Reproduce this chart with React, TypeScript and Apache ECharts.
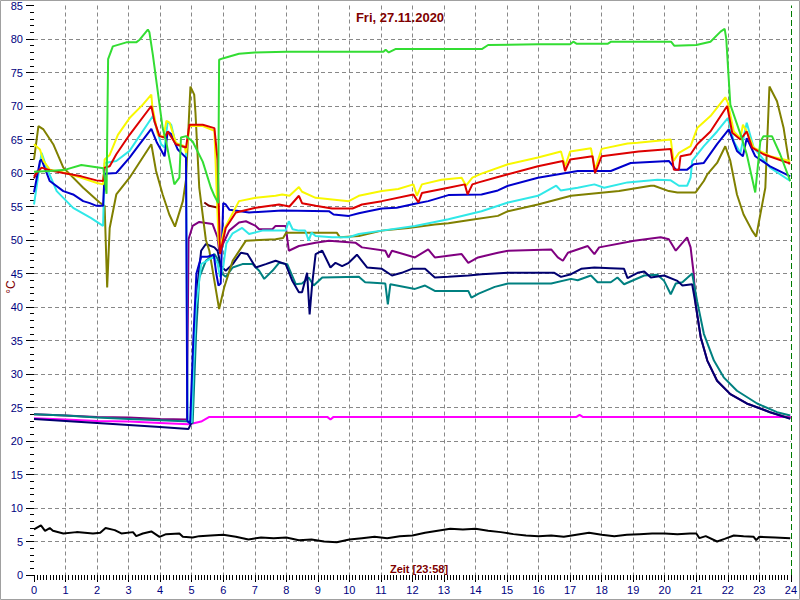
import React, { useEffect, useRef } from "react";
import * as echarts from "echarts";

type P = [number, number | null];

const xTicks = [0, 24, 1];
const yTicks = [0, 85, 5];
const titleText = "Fri, 27.11.2020";
const xName = "Zeit [23:58]";
const yName = "°C";

const green: P[] = [[0,60.2],[0.5,60.3],[1.0,60.5],[1.5,61.2],[2.2,60.7],[2.3,56.9],[2.35,77.0],[2.5,78.9],[2.93,79.5],[3.24,79.5],[3.35,79.9],[3.61,81.4],[3.66,81.0],[3.77,77.6],[4.08,66.7],[4.19,64.7],[4.45,58.3],[4.61,59.3],[4.66,65.3],[4.82,65.5],[5.03,64.7],[5.35,61.7],[5.61,57.8],[5.72,56.6],[5.84,55.5],[5.87,76.9],[5.98,77.1],[6.5,77.8],[7.0,78.0],[8,78.1],[11.08,78.1],[11.15,78.4],[11.25,78.0],[11.46,78.5],[14.2,78.5],[14.4,79.1],[16.0,79.2],[17.0,79.2],[17.1,79.6],[17.2,79.3],[18.2,79.3],[18.3,79.6],[20.2,79.6],[20.3,79.0],[21.0,79.1],[21.45,79.6],[21.77,81.1],[21.9,81.5],[21.95,80.1],[22.08,70.2],[22.4,65.8],[22.6,62.8],[22.87,57.1],[23.03,64.7],[23.13,65.5],[23.4,65.5],[23.66,62.8],[23.98,58.8]];

const yellow: P[] = [[0,64.3],[0.19,63.5],[0.3,61.8],[0.5,60.5],[1.0,60.0],[1.5,59.3],[2.0,58.5],[2.19,58.3],[2.24,62.0],[2.4,62.7],[2.66,65.7],[3.03,68.2],[3.45,70.2],[3.72,71.7],[3.75,70.0],[3.93,65.7],[4.1,65.3],[4.2,67.8],[4.3,67.5],[4.5,64.5],[4.77,64.0],[4.82,63.0],[4.93,67.0],[5.35,67.0],[5.72,66.3],[5.85,50],[5.9,48.5],[6.03,51.6],[6.5,55.8],[7.03,56.3],[7.66,56.6],[7.87,56.8],[8.1,56.6],[8.4,57.9],[8.5,57.2],[8.93,56.3],[9.98,55.8],[10.3,56.6],[11.03,57.3],[11.55,57.6],[12.03,58.3],[12.14,56.6],[12.3,58.3],[12.92,59.0],[13.56,59.3],[13.7,58.1],[13.9,59.3],[14.19,59.9],[15.03,61.3],[15.98,62.3],[16.71,63.2],[16.84,61.0],[17.0,63.2],[17.66,63.7],[17.79,60.5],[18.0,63.6],[18.82,64.4],[19.14,64.5],[20.19,65.0],[20.28,61.8],[20.45,63.0],[20.82,64.0],[21.03,66.7],[21.45,68.5],[21.92,71.3],[22.0,70.5],[22.19,66.2],[22.4,65.2],[22.48,67.2],[22.6,66.2],[22.82,63.8],[23.34,62.5],[23.98,61.8]];

const red: P[] = [[0,59.5],[0.24,60.8],[0.5,60.4],[0.93,60.0],[1.5,59.5],[1.98,58.9],[2.19,58.8],[2.24,60.8],[2.4,61.0],[2.61,62.8],[3.03,65.7],[3.72,70.0],[3.82,67.7],[3.98,65.5],[4.15,65.3],[4.24,66.2],[4.5,64.3],[4.82,63.8],[4.93,67.2],[5.35,67.2],[5.72,66.7],[5.82,62],[5.9,47.9],[6.08,51.8],[6.4,54.1],[7.03,54.8],[7.77,55.3],[8.1,55.0],[8.4,56.6],[8.5,55.5],[8.93,55.1],[9.45,54.7],[10.1,54.7],[10.4,55.3],[11.03,55.8],[12.03,56.8],[12.19,55.6],[12.3,57.0],[13.14,57.8],[13.66,58.3],[13.75,56.8],[13.9,58.3],[14.1,58.6],[14.71,59.4],[15.03,59.8],[15.98,61.0],[16.77,61.8],[16.84,60.3],[17.0,62.0],[17.71,62.5],[17.79,60.0],[18.0,62.5],[19.17,63.2],[20.19,63.6],[20.29,60.5],[20.45,60.5],[20.5,62.5],[20.82,62.8],[21.03,64.3],[21.45,66.2],[21.98,70.0],[22.14,66.0],[22.4,65.0],[22.6,66.2],[22.77,63.8],[23.13,62.8],[23.98,61.4]];

const cyan: P[] = [[0,55.3],[0.24,63.0],[0.4,60.8],[0.72,57.3],[1.24,54.8],[1.8,53.3],[2.19,52.1],[2.24,61.5],[2.61,61.8],[3.03,63.3],[3.77,68.5],[4.03,64.3],[4.14,63.8],[4.24,67.7],[4.35,67.2],[4.5,64.3],[4.82,63.8],[4.87,23.0],[5.0,22.8],[5.05,30],[5.14,40],[5.3,46.4],[5.45,46.8],[5.7,47.5],[5.82,46.5],[5.9,44.5],[6.0,46],[6.1,49.5],[6.3,51.0],[6.6,51.8],[6.82,50.9],[7.24,51.4],[7.98,51.4],[8.08,52.8],[8.2,51.6],[8.4,51.4],[8.6,51.4],[8.71,49.9],[8.8,51.1],[8.93,50.6],[9.45,50.4],[9.98,50.4],[10.3,50.9],[11.03,51.4],[12.08,52.1],[13.14,53.1],[14.19,54.3],[15.03,55.6],[15.98,56.6],[16.56,58.1],[16.7,57.4],[17.24,57.8],[17.77,58.3],[18.08,57.8],[18.82,58.6],[19.77,59.0],[20.19,58.9],[20.45,58.1],[20.71,58.1],[20.82,59.3],[20.87,61.8],[21.24,64.0],[21.66,66.2],[22.0,68.2],[22.19,64.7],[22.4,63.0],[22.6,67.5],[22.82,63.8],[23.34,60.8],[23.98,58.8]];

const blue: P[] = [[0,57.1],[0.19,61.8],[0.24,62.0],[0.5,58.8],[0.93,57.3],[1.24,56.8],[1.56,55.8],[1.77,55.5],[1.98,55.1],[2.19,55.1],[2.24,59.9],[2.61,60.0],[3.03,62.3],[3.35,64.3],[3.72,66.6],[3.9,64.5],[4.14,62.5],[4.24,66.2],[4.35,65.8],[4.56,63.5],[4.82,62.3],[4.86,23.0],[4.95,22.6],[5.05,35],[5.15,45],[5.3,47.5],[5.5,47.5],[5.7,47.8],[5.78,45],[5.85,43.2],[5.92,43.5],[6.0,55.5],[6.08,55.3],[6.2,54.5],[6.82,54.1],[7.87,54.4],[9.35,54.3],[9.5,53.8],[9.98,53.6],[10.3,54.0],[10.6,54.3],[11.03,54.7],[11.5,54.8],[12.08,55.4],[12.5,55.8],[13.14,56.7],[14.19,56.8],[14.71,57.4],[15.03,58.1],[15.98,59.3],[17.24,60.3],[18.29,60.3],[18.92,61.5],[20.13,61.8],[20.35,60.5],[20.71,60.5],[20.92,61.3],[21.24,61.5],[21.66,64.3],[22.03,66.5],[22.29,63.3],[22.48,62.5],[22.6,65.2],[22.87,62.5],[23.34,61.0],[23.98,59.5]];

const olive: P[] = [[0,62.0],[0.14,67.0],[0.3,66.5],[0.61,64.3],[0.93,60.8],[1.56,57.8],[2.08,55.6],[2.24,55.1],[2.32,42.9],[2.4,51.8],[2.61,56.8],[3.03,59.3],[3.72,64.3],[3.87,60.3],[4.08,56.8],[4.29,53.8],[4.47,52.0],[4.72,55.8],[4.82,59.0],[4.96,72.9],[5.08,71.7],[5.12,69],[5.24,57.8],[5.45,50],[5.56,48.4],[5.72,43.9],[5.87,39.7],[6.03,42.9],[6.3,46.9],[6.72,49.9],[7.66,50.1],[7.9,50.3],[8.0,51.1],[9.6,51.1],[9.7,50.4],[10.3,50.6],[11.03,51.4],[11.87,51.8],[12.71,52.3],[13.14,52.5],[13.98,53.1],[14.71,53.6],[15.03,54.3],[15.98,55.3],[17.03,56.6],[18.55,57.3],[19.56,58.1],[19.66,58.1],[20.13,57.3],[20.4,57.1],[20.98,57.1],[21.24,58.8],[21.35,59.8],[21.66,61.5],[21.92,64.0],[22.08,61.8],[22.29,56.8],[22.5,53.8],[22.77,51.4],[22.9,50.5],[23.03,53.8],[23.19,57.8],[23.32,72.9],[23.56,70.7],[23.77,66.7],[23.95,61.3]];

const purple: P[] = [[0,24.0],[1,23.8],[2,23.6],[3,23.5],[4,23.3],[4.85,23.2],[4.9,50.1],[5.03,52.1],[5.24,52.7],[5.66,52.4],[5.82,50.4],[5.87,48.4],[5.95,49],[6.19,51.4],[6.5,52.6],[6.72,52.8],[7.03,52.1],[7.14,51.6],[7.56,51.6],[7.66,52.1],[7.98,52.1],[8.08,48.4],[8.4,49.1],[8.93,49.6],[9.35,49.9],[10.19,49.6],[10.4,48.9],[11.14,48.4],[11.24,47.4],[11.35,48.4],[12.08,47.4],[12.5,48.6],[12.71,47.4],[13.56,47.9],[13.77,46.6],[14.08,47.4],[14.71,48.1],[15.03,48.4],[16.4,48.6],[16.61,47.4],[16.77,46.9],[16.93,48.1],[17.56,49.1],[17.77,47.9],[17.92,48.9],[19.03,49.9],[19.87,50.4],[20.13,50.1],[20.35,48.4],[20.71,50.4],[20.82,48.9],[20.92,44.9],[20.98,40.4],[21.14,35.5],[21.35,32.0],[21.66,29.0],[22.08,27.0],[22.6,25.6],[23.34,24.3],[23.98,23.4]];

const navy: P[] = [[0,23.3],[1,23.0],[2,22.7],[3,22.4],[4,22.1],[4.9,21.8],[4.98,22.6],[5.08,33.5],[5.19,43.4],[5.3,48.4],[5.45,49.4],[5.72,48.9],[5.82,48.4],[5.93,46.1],[6.08,45.4],[6.3,46.4],[6.56,48.1],[6.77,47.9],[7.03,45.9],[7.35,46.4],[7.66,46.9],[7.98,46.4],[8.19,43.9],[8.4,42.2],[8.5,42.2],[8.66,45.1],[8.74,38.9],[8.82,43.4],[8.93,47.9],[9.14,48.4],[9.4,45.9],[9.56,46.6],[9.77,46.1],[9.98,46.6],[10.24,47.8],[10.56,45.9],[11.03,45.7],[11.35,44.7],[11.66,45.1],[11.98,45.7],[12.4,45.7],[12.71,44.4],[13.14,44.5],[13.77,44.7],[14.19,44.9],[15.03,45.1],[16.5,45.1],[16.71,44.5],[17.03,44.9],[17.35,45.7],[17.77,45.9],[18.29,45.8],[18.71,45.7],[18.82,44.3],[19.14,45.1],[19.35,45.3],[19.56,44.4],[19.98,44.7],[20.4,43.9],[20.56,43.2],[20.87,43.4],[20.98,40.4],[21.14,35.5],[21.35,32.0],[21.66,29.0],[22.08,27.0],[22.6,25.6],[23.34,24.3],[23.98,23.3]];

const teal: P[] = [[0,24.0],[1,23.8],[2,23.5],[3,23.3],[4,23.1],[4.95,22.9],[5.03,22.6],[5.14,36],[5.24,44.4],[5.45,46.9],[5.72,47.9],[5.82,47.2],[5.98,44.9],[6.08,44.5],[6.3,45.9],[6.61,46.4],[6.93,46.4],[7.14,45.4],[7.3,44.2],[7.56,45.4],[7.77,46.6],[8.03,46.4],[8.3,43.4],[8.5,43.5],[8.71,44.4],[8.87,43.2],[9.14,44.4],[10.3,44.5],[10.5,43.7],[11.14,43.5],[11.22,40.4],[11.3,43.4],[12.08,42.7],[12.4,43.2],[12.71,42.4],[13.77,42.4],[13.87,41.4],[14.1,42.0],[14.61,43.0],[15.03,43.5],[16.4,43.5],[17.03,44.2],[17.24,44.0],[17.66,44.7],[17.87,43.7],[18.29,43.7],[18.5,44.4],[18.71,43.4],[19.35,44.7],[19.77,44.8],[19.98,43.9],[20.19,41.9],[20.35,43.5],[20.56,43.7],[20.87,45.0],[21.03,40.8],[21.24,36.0],[21.56,32.0],[21.87,29.5],[22.29,27.5],[22.93,25.6],[23.56,24.3],[23.98,23.8]];

const magenta: P[] = [[0,23.4],[1,23.2],[2,23.0],[3,22.9],[4,22.7],[4.9,22.5],[5.03,22.6],[5.3,22.9],[5.56,23.6],[9.3,23.6],[9.4,23.2],[9.5,23.6],[17.2,23.6],[17.3,23.9],[17.4,23.6],[24,23.6]];

const black: P[] = [[0,6.8],[0.22,7.4],[0.35,6.6],[0.5,7.0],[0.6,6.6],[0.93,6.2],[1.35,6.4],[1.87,6.2],[2.1,6.3],[2.27,7.0],[2.56,6.7],[2.77,6.2],[3.14,6.4],[3.24,5.8],[3.45,6.2],[3.72,6.5],[3.98,5.7],[4.19,6.1],[4.61,6.2],[4.72,5.7],[5.03,5.6],[5.24,5.8],[5.6,5.9],[6.0,6.0],[6.4,5.7],[6.8,5.3],[7.2,5.6],[7.6,5.5],[8.0,5.6],[8.4,5.2],[8.8,5.3],[9.2,5.0],[9.6,4.9],[10.0,5.3],[10.4,5.5],[10.8,5.7],[11.2,5.5],[11.6,5.8],[12.0,5.9],[12.4,6.3],[12.8,6.6],[13.2,6.9],[13.6,6.8],[14.0,6.9],[14.4,6.6],[14.8,6.4],[15.2,6.1],[15.6,5.9],[16.0,5.8],[16.4,5.9],[16.8,5.7],[17.2,6.0],[17.6,6.3],[18.0,6.0],[18.4,5.8],[18.8,6.0],[19.2,6.1],[19.6,6.2],[20.0,6.2],[20.4,6.1],[20.8,6.2],[21.0,6.2],[21.1,5.5],[21.3,5.8],[21.66,5.0],[21.9,5.4],[22.19,5.9],[22.5,5.8],[22.82,5.7],[22.9,5.2],[23.0,5.7],[23.5,5.6],[23.98,5.5]];

const maroon: P[] = [[0,59.2],[0.1,60.3],[0.15,null],[5.4,55.6],[5.55,55.1],[5.85,54.8]];

const seriesDefs: { name: string; data: P[]; color: string }[] = [
  { name: "Aussen", data: black, color: "#000000" },
  { name: "Raum", data: magenta, color: "#ff00ff" },
  { name: "Puffer u", data: purple, color: "#800080" },
  { name: "VL HK", data: teal, color: "#008080" },
  { name: "RL HK", data: navy, color: "#000070" },
  { name: "Puffer m", data: olive, color: "#808000" },
  { name: "Puffer o", data: cyan, color: "#30e8e8" },
  { name: "WW u", data: blue, color: "#0000cc" },
  { name: "X", data: maroon, color: "#800000" },
  { name: "WW m", data: yellow, color: "#f8f800" },
  { name: "WW o", data: red, color: "#dd0000" },
  { name: "Kessel", data: green, color: "#33dd33" },
];

export default function App() {
  const ref = useRef<HTMLDivElement>(null);
  useEffect(() => {
    if (!ref.current) return;
    const chart = echarts.init(ref.current, undefined, { renderer: "svg" });
    const font = "Liberation Sans, Arial, sans-serif";
    const series: any[] = seriesDefs.map((s, i) => ({
      type: "line",
      name: s.name,
      data: s.data.map((p) => [p[0], p[1] === null ? "-" : p[1]]),
      showSymbol: false,
      symbol: "none",
      connectNulls: false,
      lineStyle: { color: s.color, width: 2 },
      itemStyle: { color: s.color },
      z: 2 + i * 0.01,
      silent: true,
    }));
    series[series.length - 1].markLine = {
      silent: true,
      symbol: "none",
      label: { show: false },
      lineStyle: { color: "#007a00", type: [6, 3], width: 1 },
      data: [{ xAxis: 24 }],
    };
    chart.setOption({
      animation: false,
      backgroundColor: "#ffffff",
      grid: { left: 34, right: 6, top: 4, bottom: 25, containLabel: false },
      xAxis: {
        type: "value",
        min: xTicks[0],
        max: xTicks[1],
        interval: xTicks[2],
        axisLine: { show: false },
        axisTick: { show: true, length: 7, lineStyle: { color: "#000" } },
        minorTick: { show: true, splitNumber: 10, length: 5, lineStyle: { color: "#000" } },
        axisLabel: { color: "#000080", fontSize: 11, fontFamily: font, margin: 9 },
        splitLine: {
          show: true,
          showMinLine: false,
          showMaxLine: false,
          lineStyle: { color: "#888", type: [4, 3], width: 1 },
        },
      },
      yAxis: {
        type: "value",
        min: yTicks[0],
        max: yTicks[1],
        interval: yTicks[2],
        axisLine: { show: false },
        axisTick: { show: true, length: 8, lineStyle: { color: "#000" } },
        minorTick: { show: true, splitNumber: 5, length: 4, lineStyle: { color: "#000" } },
        axisLabel: { color: "#000080", fontSize: 11, fontFamily: font, margin: 11 },
        splitLine: {
          show: true,
          showMinLine: false,
          showMaxLine: false,
          lineStyle: { color: "#888", type: [4, 3], width: 1 },
        },
      },
      graphic: [
        {
          type: "rect",
          shape: { x: 0.5, y: 0.5, width: 799, height: 599 },
          style: { fill: "none", stroke: "#a0a0a0", lineWidth: 1 },
          silent: true,
          z: 100,
        },
        {
          type: "text",
          x: 400,
          y: 17.5,
          style: {
            text: titleText,
            fill: "#800000",
            font: "bold 13px " + font,
            textAlign: "center",
            textVerticalAlign: "middle",
          },
          z: 100,
        },
        {
          type: "text",
          x: 419,
          y: 569,
          style: {
            text: xName,
            fill: "#800000",
            font: "bold 11px " + font,
            textAlign: "center",
            textVerticalAlign: "middle",
          },
          z: 100,
        },
        {
          type: "text",
          x: 11,
          y: 287,
          rotation: Math.PI / 2,
          style: {
            text: yName,
            fill: "#800000",
            font: "12px " + font,
            textAlign: "center",
            textVerticalAlign: "middle",
          },
          z: 100,
        },
      ],
      series,
    });
    return () => chart.dispose();
  }, []);
  return (
    <div
      ref={ref}
      style={{ position: "absolute", left: 0, top: 0, width: 800, height: 600, background: "#fff" }}
    />
  );
}
